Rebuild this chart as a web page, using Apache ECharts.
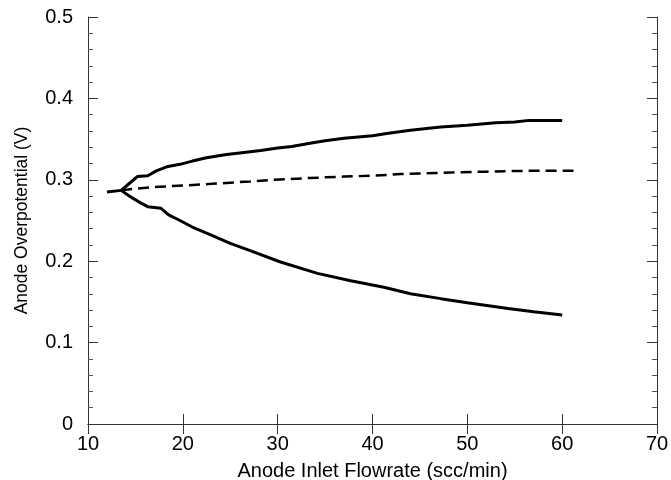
<!DOCTYPE html>
<html>
<head>
<meta charset="utf-8">
<script src="https://cdn.jsdelivr.net/npm/echarts@6/dist/echarts.min.js"></script>
<style>html,body{margin:0;padding:0;background:#fff}#c{width:671px;height:480px}</style>
</head>
<body>
<div id="c"></div>
<script>
const xTicks = [10, 20, 30, 40, 50, 60, 70];
const yTicks = [0, 0.1, 0.2, 0.3, 0.4, 0.5];

const upperX = [12.0, 13.5, 14.5, 15.2, 16.3, 17.2, 18.3, 19.7, 21.0, 22.5, 24.6, 26.0, 28.2, 30.0, 31.5, 33.4, 35.0, 37.0, 40.0, 41.5, 44.0, 47.2, 50.0, 53.0, 55.0, 56.5, 60.0];
const upperY = [0.285, 0.287, 0.297, 0.304, 0.305, 0.311, 0.316, 0.319, 0.323, 0.327, 0.331, 0.333, 0.336, 0.339, 0.341, 0.345, 0.348, 0.351, 0.354, 0.357, 0.361, 0.365, 0.367, 0.370, 0.371, 0.373, 0.373];

const lowerX = [13.5, 14.5, 15.5, 16.3, 17.7, 18.5, 19.7, 21.0, 23.0, 25.0, 27.1, 30.3, 34.2, 37.7, 41.2, 44.0, 47.2, 50.0, 54.3, 57.0, 60.0];
const lowerY = [0.287, 0.279, 0.272, 0.267, 0.265, 0.257, 0.250, 0.242, 0.232, 0.222, 0.213, 0.199, 0.185, 0.176, 0.168, 0.160, 0.154, 0.149, 0.142, 0.138, 0.134];

const dashX = [13.5, 14.8, 17.0, 20.0, 23.0, 27.1, 29.5, 33.0, 37.0, 40.0, 43.0, 48.2, 52.0, 56.0, 61.2];
const dashY = [0.287, 0.289, 0.291, 0.293, 0.295, 0.298, 0.300, 0.302, 0.304, 0.305, 0.307, 0.309, 0.310, 0.311, 0.311];

const pairs = (xs, ys) => xs.map((x, i) => [x, ys[i]]);

const chart = echarts.init(document.getElementById('c'), null, {renderer: 'canvas'});
const font = 'Liberation Sans, Arial, Helvetica, sans-serif';
const axisLine = {show: true, lineStyle: {color: '#333', width: 1}};
chart.setOption({
  animation: false,
  grid: {left: 88, right: 14, top: 17, bottom: 56, containLabel: false, outerBoundsMode: 'none'},
  xAxis: [{
    type: 'value', min: xTicks[0], max: xTicks[xTicks.length - 1], interval: 10,
    position: 'bottom',
    axisLine: axisLine,
    axisTick: {show: true, inside: true, length: 10, lineStyle: {color: '#333'}},
    splitLine: {show: false},
    axisLabel: {color: '#000', fontSize: 20, fontFamily: font, margin: 10},
    name: 'Anode Inlet Flowrate (scc/min)', nameLocation: 'middle', nameGap: 37,
    nameTextStyle: {color: '#000', fontSize: 20, fontFamily: font}
  }, {
    type: 'value', min: xTicks[0], max: xTicks[xTicks.length - 1], interval: 10,
    position: 'top',
    axisLine: axisLine,
    axisTick: {show: true, inside: true, length: 10, lineStyle: {color: '#333'}},
    splitLine: {show: false},
    axisLabel: {show: false}
  }],
  yAxis: [{
    type: 'value', min: yTicks[0], max: yTicks[yTicks.length - 1], interval: 0.1,
    position: 'left',
    axisLine: axisLine,
    axisTick: {show: true, inside: true, length: 10, lineStyle: {color: '#333'}},
    minorTick: {show: true, splitNumber: 5, length: 5, lineStyle: {color: '#555'}},
    splitLine: {show: false},
    axisLabel: {color: '#000', fontSize: 20, fontFamily: font, margin: 15,
      formatter: v => v === 0 ? '0' : v.toFixed(1)},
    name: 'Anode Overpotential (V)', nameLocation: 'middle', nameGap: 57,
    nameTextStyle: {color: '#000', fontSize: 17.5, fontFamily: font}
  }, {
    type: 'value', min: yTicks[0], max: yTicks[yTicks.length - 1], interval: 0.1,
    position: 'right',
    axisLine: axisLine,
    axisTick: {show: true, inside: true, length: 10, lineStyle: {color: '#333'}},
    minorTick: {show: true, splitNumber: 5, length: 5, lineStyle: {color: '#555'}},
    splitLine: {show: false},
    axisLabel: {show: false}
  }],
  series: [
    {type: 'line', data: pairs(upperX, upperY), symbol: 'none', lineStyle: {color: '#000', width: 3}},
    {type: 'line', data: pairs(lowerX, lowerY), symbol: 'none', lineStyle: {color: '#000', width: 3}},
    {type: 'line', data: pairs(dashX, dashY), symbol: 'none', lineStyle: {color: '#000', width: 2.5, type: [11, 6]}}
  ]
});
</script>
</body>
</html>
